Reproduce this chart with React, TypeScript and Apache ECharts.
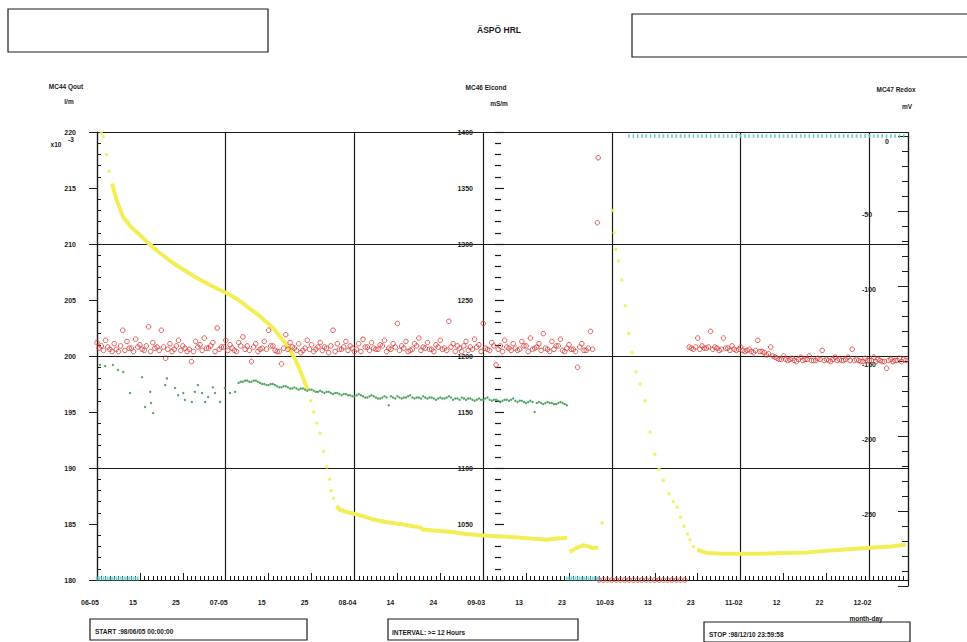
import React, { useEffect, useRef } from "react";
import * as echarts from "echarts";

// Time axis: days since 98/06/05 00:00 (the run stops at 98/12/10 23:59:58)
const TOTAL_DAYS = 189;
const xTickLabels = [
  "06-05", "15", "25", "07-05", "15", "25", "08-04", "14", "24", "09-03",
  "13", "23", "10-03", "13", "23", "11-02", "12", "22", "12-02",
];

// MC44 Qout (l/m x10^-3) — dense stretches drawn as a trace, [day, value]
const qoutFall: [number, number][] = [
  [3.5, 215.4], [4.5, 214], [6.1, 212.4], [8, 211.5], [10, 210.8], [11.9, 210.1],
  [14, 209.4], [17.7, 208.3], [21, 207.5], [24, 206.8], [27, 206.2], [30.3, 205.6],
  [33, 205], [35, 204.4], [37.5, 203.7], [39.6, 203], [41.3, 202.4], [42.7, 201.7],
  [44, 201.1], [45, 200.5], [46.2, 199.7], [47.3, 198.75], [48.2, 197.9], [49, 197],
];
const qoutLowA: [number, number][] = [
  [55.8, 186.6], [56.7, 186.25], [59, 186], [62, 185.7], [64.4, 185.4], [67, 185.2],
  [70.6, 185], [73, 184.85], [75.3, 184.7], [75.9, 184.5], [79, 184.4], [82.3, 184.3],
  [86, 184.1], [89.3, 184], [93, 183.9], [96.3, 183.85], [101, 183.7], [104.9, 183.6],
  [107, 183.7], [109.6, 183.75],
];
const qoutLowB: [number, number][] = [
  [110.2, 182.5], [111, 182.7], [112, 182.9], [113.3, 183.1], [114.5, 183], [115.5, 182.85],
  [116.8, 182.9],
];
const qoutLowC: [number, number][] = [
  [139.9, 182.7], [142.2, 182.4], [146, 182.35], [150, 182.35], [155, 182.35], [160, 182.4],
  [165.5, 182.45], [170, 182.6], [175, 182.75], [181, 182.9], [185, 183], [188.5, 183.15],
];
// MC44 Qout — fast changes, where the 12 h samples stand apart
const qoutSparse: [number, number][] = [
  [1.0, 219.9], [1.5, 219.6], [2.2, 218.0], [2.8, 216.5],
  [49.8, 196], [50.5, 195], [51.2, 194], [52, 193.1], [52.8, 191.5], [53.6, 190.1],
  [54.2, 189], [54.6, 188], [55.1, 187.3],
  [117.7, 185.1], [120.2, 213], [120.5, 211], [120.9, 209.5], [121.5, 208.5], [122.3, 206.8],
  [123.1, 204.5], [123.9, 202], [124.7, 200.3], [125.6, 198.6], [126.6, 197.5], [127.7, 196],
  [128.9, 193.2], [130, 191.2], [131, 189.9], [132, 188.9], [133.3, 187.7], [134.3, 187],
  [135.2, 186.5], [136, 185.6], [136.8, 184.8], [137.6, 184.1], [138.2, 183.6], [139, 183],
];

// MC46 Elcond (mS/m) — midnight and noon readings
const elcondStartA = 0;
const elcondA = [
  1212, 1209, 1214, 1206, 1211, 1204, 1223, 1213, 1207, 1215,
  1210, 1205, 1226, 1212, 1208, 1223, 1198, 1211, 1206, 1214,
  1209, 1204, 1195, 1213, 1210, 1216, 1207, 1212, 1225, 1208,
  1214, 1210, 1205, 1212, 1217, 1209, 1195, 1211, 1206, 1213,
  1223, 1209, 1204, 1193, 1219, 1212, 1207, 1211, 1205, 1214,
  1210, 1206, 1212, 1208, 1203, 1223, 1211, 1206, 1213, 1209,
  1204, 1211, 1215, 1208, 1212, 1206, 1210, 1214, 1207, 1211,
  1229, 1209, 1213, 1205, 1211, 1216, 1208, 1212, 1206, 1210,
  1214, 1207, 1231, 1211, 1209, 1204, 1213, 1208, 1215, 1210,
  1229, 1206, 1212, 1192, 1209, 1214, 1207, 1211, 1205, 1213,
  1209, 1216, 1207, 1211, 1220, 1206, 1213, 1209, 1215, 1204,
  1210, 1206, 1190, 1211, 1205, 1222,
];
const elcondStartANoon = 0.5;
const elcondANoon = [
  1207, 1205, 1208, 1204, 1206, 1209, 1205, 1207, 1204, 1208,
  1206, 1209, 1204, 1207, 1205, 1208, 1206, 1204, 1209, 1205,
  1207, 1206, 1204, 1208, 1205, 1207, 1209, 1204, 1206, 1208,
  1205, 1207, 1204, 1209, 1206, 1205, 1208, 1204, 1207, 1206,
  1209, 1205, 1204, 1207, 1206, 1208, 1205, 1203, 1207, 1206,
  1204, 1208, 1205, 1207, 1209, 1204, 1206, 1208, 1205, 1207,
  1206, 1204, 1208, 1205, 1207, 1206, 1209, 1204, 1206, 1208,
  1205, 1207, 1204, 1206, 1209, 1205, 1207, 1206, 1204, 1208,
  1206, 1205, 1208, 1204, 1207, 1209, 1205, 1206, 1208, 1204,
  1207, 1205, 1209, 1206, 1204, 1208, 1205, 1207, 1206, 1209,
  1204, 1206, 1208, 1205, 1207, 1204, 1206, 1209, 1205, 1207,
  1206, 1204, 1208, 1205, 1207, 1206,
];
const elcondSpikes: [number, number][] = [[116.6, 1319], [116.8, 1377]];
const elcondStartFloor = 117;
const elcondFloor = [
  1000, 1000, 1000, 1000, 1000, 1000, 1000, 1000, 1000, 1000, 1000,
  1000, 1000, 1000, 1000, 1000, 1000, 1000, 1000, 1000, 1000,
];
const elcondStartB = 138;
const elcondB = [
  1208, 1206, 1216, 1209, 1207, 1222, 1208, 1205, 1216, 1207,
  1209, 1205, 1208, 1204, 1206, 1203, 1214, 1204, 1201, 1208,
  1199, 1197, 1200, 1196, 1198, 1195, 1199, 1197, 1200, 1196,
  1198, 1205, 1197, 1195, 1199, 1197, 1196, 1199, 1206, 1197,
  1195, 1198, 1196, 1199, 1197, 1195, 1189, 1197, 1196, 1198,
  1197,
];
const elcondStartBNoon = 138.5;
const elcondBNoon = [
  1207, 1208, 1206, 1207, 1208, 1206, 1207, 1206, 1207, 1205,
  1206, 1206, 1205, 1205, 1204, 1205, 1204, 1203, 1202, 1200,
  1198, 1197, 1197, 1197, 1196, 1197, 1196, 1197, 1196, 1196,
  1197, 1196, 1196, 1197, 1196, 1196, 1197, 1196, 1196, 1196,
  1195, 1196, 1196, 1195, 1196, 1195, 1196, 1195, 1196, 1195,
  1196,
];

// Second conductivity trace (mS/m): scattered start, then midnight / noon readings
const condScatter: [number, number][] = [
  [0.7, 1192], [1.9, 1191], [3.7, 1192], [4.9, 1187.5], [6.1, 1185.7], [7.7, 1167],
  [10.5, 1181], [11.2, 1154.5], [12.4, 1168], [12.6, 1158], [13.1, 1149], [15.9, 1174],
  [16.3, 1180], [18.2, 1171.4], [18.9, 1165], [20.1, 1167], [20.5, 1160.7], [22.1, 1159],
  [22.8, 1168], [23.5, 1174], [24.5, 1167], [25.2, 1159], [25.9, 1163.4], [27, 1172],
  [27.5, 1167], [28.7, 1159], [29.8, 1171.4], [31, 1167], [32.2, 1168],
];
const condStart = 33;
const condDaily = [
  1176, 1177, 1178, 1177, 1178, 1176, 1175, 1174, 1175, 1173,
  1172, 1173, 1171, 1172, 1170, 1171, 1169, 1170, 1168, 1169,
  1167, 1168, 1166, 1167, 1165, 1166, 1165, 1164, 1166, 1164,
  1163, 1165, 1163, 1162, 1164, 1156, 1163, 1164, 1162, 1163,
  1165, 1162, 1163, 1164, 1162, 1163, 1161, 1163, 1162, 1164,
  1161, 1162, 1163, 1161, 1162, 1160, 1162, 1161, 1163, 1160,
  1161, 1159, 1161, 1160, 1162, 1159, 1160, 1158, 1160, 1150,
  1159, 1157, 1159, 1158, 1157, 1159, 1157,
];
const condStartNoon = 33.5;
const condNoon = [
  1177, 1178, 1177, 1178, 1177, 1175, 1174, 1175, 1174, 1172,
  1173, 1172, 1171, 1171, 1171, 1170, 1170, 1169, 1168, 1168,
  1168, 1167, 1167, 1166, 1166, 1165, 1164, 1165, 1165, 1163,
  1164, 1164, 1162, 1163, 1163, 1164, 1162, 1163, 1163, 1164,
  1163, 1163, 1162, 1163, 1163, 1162, 1162, 1162, 1163, 1163,
  1162, 1161, 1162, 1162, 1161, 1161, 1161, 1162, 1161, 1161,
  1160, 1160, 1161, 1161, 1160, 1160, 1159, 1159, 1159, 1158,
  1158, 1158, 1158, 1157, 1158, 1158, 1156,
];

// MC47 Redox (mV), 12 h samples pinned at the ends of the range
const redoxStartA = 0;
const redoxA = [
  -295, -295, -295, -295, -295, -295, -295, -295, -295, -295,
  -295, -295, -295, -295, -295, -295, -295, -295, -295, -295,
];
const redoxStartB = 109.5;
const redoxB = [
  -295, -295, -295, -295, -295, -295, -295, -295,
  -295, -295, -295, -295, -295, -295, -295, -295,
];
const redoxStartC = 124;
const redoxC = [
  0, 0, 0, 0, 0, 0, 0, 0, 0, 0, 0, 0, 0, 0, 0, 0, 0, 0, 0, 0, 0, 0,
  0, 0, 0, 0, 0, 0, 0, 0, 0, 0, 0, 0, 0, 0, 0, 0, 0, 0, 0, 0, 0, 0,
  0, 0, 0, 0, 0, 0, 0, 0, 0, 0, 0, 0, 0, 0, 0, 0, 0, 0, 0, 0, 0,
];

const INK = "#1b1b1b";
const FONT = '"Liberation Sans", Arial, sans-serif';
const YELLOW = "#f3ee55";
const RED = "#dd3f3a";
const GREEN = "#3f9d55";
const CYAN = "#58c4c0";

const seq = (start: number, vals: number[], step = 1) =>
  vals.map((v, i) => [start + i * step, v]);

const tickLabel = {
  fontFamily: FONT,
  fontSize: 7,
  fontWeight: "bold" as const,
  color: INK,
};

const txt = (
  text: string,
  x: number,
  y: number,
  size = 6.5,
  align: "left" | "center" | "right" = "center"
) => ({
  type: "text",
  x,
  y,
  silent: true,
  style: {
    text,
    fill: INK,
    fontFamily: FONT,
    fontSize: size,
    fontWeight: "bold",
    align,
    verticalAlign: "middle",
  },
});

const box = (x: number, y: number, w: number, h: number) => ({
  type: "rect",
  silent: true,
  shape: { x, y, width: w, height: h },
  style: { fill: "none", stroke: INK, lineWidth: 1.2 },
});

function buildOption() {
  const yellowLine = (data: [number, number][]) => ({
    type: "line",
    xAxisIndex: 0,
    yAxisIndex: 0,
    data,
    symbol: "none",
    lineStyle: { color: YELLOW, width: 4 },
    z: 2,
  });

  return {
    animation: false,
    backgroundColor: "#ffffff",
    grid: [
      { left: 97, top: 132, width: 811, height: 448, containLabel: false },
      { left: 97, top: 136, width: 811, height: 450, containLabel: false },
    ],
    xAxis: [
      {
        gridIndex: 0,
        type: "value",
        min: 0,
        max: TOTAL_DAYS,
        interval: 10,
        axisLine: { show: true, onZero: false, lineStyle: { color: INK, width: 1.2 } },
        axisTick: { show: true, inside: true, length: 7, lineStyle: { color: INK } },
        minorTick: { show: true, splitNumber: 10, length: 4, lineStyle: { color: INK } },
        splitLine: { show: false },
        axisLabel: {
          ...tickLabel,
          margin: 19,
          padding: [0, 14, 0, 0],
          showMaxLabel: false,
          formatter: (v: number) => {
            const i = Math.round(v / 10);
            if (Math.abs(v - i * 10) > 1e-6) return "";
            return xTickLabels[i] ?? "";
          },
        },
      },
      {
        gridIndex: 0,
        type: "value",
        min: 0,
        max: TOTAL_DAYS,
        interval: 30,
        axisLine: { show: false, onZero: false },
        axisTick: { show: false },
        axisLabel: { show: false },
        splitLine: { show: true, lineStyle: { color: INK, width: 1.2 } },
      },
      { gridIndex: 1, type: "value", min: 0, max: TOTAL_DAYS, show: false },
    ],
    yAxis: [
      // MC44 Qout
      {
        gridIndex: 0,
        type: "value",
        position: "left",
        min: 180,
        max: 220,
        interval: 5,
        axisLine: { show: true, onZero: false, lineStyle: { color: INK, width: 1.2 } },
        axisTick: { show: true, inside: false, length: 8, lineStyle: { color: INK } },
        splitLine: { show: false },
        axisLabel: { ...tickLabel, margin: 21 },
      },
      // Qout unit ticks, pointing into the plot
      {
        gridIndex: 0,
        type: "value",
        position: "left",
        min: 180,
        max: 220,
        interval: 5,
        axisLine: { show: false, onZero: false },
        axisTick: { show: false, inside: true },
        minorTick: { show: true, splitNumber: 5, length: 4, lineStyle: { color: INK } },
        axisLabel: { show: false },
        splitLine: { show: false },
      },
      // horizontal grid
      {
        gridIndex: 0,
        type: "value",
        position: "left",
        min: 180,
        max: 220,
        interval: 10,
        axisLine: { show: false, onZero: false },
        axisTick: { show: false },
        axisLabel: { show: false },
        splitLine: { show: true, lineStyle: { color: INK, width: 1.2 } },
      },
      // MC46 Elcond, in the middle of the plot
      {
        gridIndex: 0,
        type: "value",
        position: "left",
        offset: -398,
        min: 1000,
        max: 1400,
        interval: 50,
        axisLine: { show: false, onZero: false },
        axisTick: { show: true, inside: true, length: 9, lineStyle: { color: INK, width: 1.2 } },
        minorTick: { show: true, splitNumber: 5, length: 6, lineStyle: { color: INK, width: 1.2 } },
        splitLine: { show: false },
        axisLabel: {
          ...tickLabel,
          margin: 22,
          showMinLabel: false,
          formatter: (v: number) => String(v),
        },
      },
      // MC47 Redox
      {
        gridIndex: 1,
        type: "value",
        position: "right",
        min: -300,
        max: 0,
        interval: 50,
        axisLine: { show: true, onZero: false, lineStyle: { color: INK, width: 1.2 } },
        axisTick: { show: true, inside: true, length: 10, lineStyle: { color: INK } },
        minorTick: { show: true, splitNumber: 5, length: 6, lineStyle: { color: INK } },
        splitLine: { show: false },
        axisLabel: {
          ...tickLabel,
          inside: true,
          margin: 46,
          align: "left",
          verticalAlign: "top",
          showMinLabel: false,
          formatter: (v: number) => (v === 0 ? "{z|0}" : String(v)),
          rich: {
            z: { ...tickLabel, padding: [2, 0, 0, 23] },
          },
        },
      },
    ],
    series: [
      yellowLine(qoutFall),
      yellowLine(qoutLowA),
      yellowLine(qoutLowB),
      yellowLine(qoutLowC),
      {
        type: "scatter",
        xAxisIndex: 0,
        yAxisIndex: 0,
        data: qoutSparse,
        symbol: "circle",
        symbolSize: 3.5,
        itemStyle: { color: YELLOW, opacity: 0.85 },
        z: 2,
      },
      {
        type: "scatter",
        xAxisIndex: 0,
        yAxisIndex: 3,
        data: [
          ...condScatter,
          ...seq(condStart, condDaily),
          ...seq(condStartNoon, condNoon),
        ],
        symbol: "circle",
        symbolSize: 2.4,
        itemStyle: { color: GREEN, opacity: 0.9 },
        z: 3,
      },
      {
        type: "scatter",
        xAxisIndex: 0,
        yAxisIndex: 3,
        data: [
          ...seq(elcondStartA, elcondA),
          ...seq(elcondStartANoon, elcondANoon),
          ...elcondSpikes,
          ...seq(elcondStartFloor, elcondFloor),
          ...seq(elcondStartB, elcondB),
          ...seq(elcondStartBNoon, elcondBNoon),
        ],
        symbol: "circle",
        symbolSize: 4.6,
        itemStyle: { color: "rgba(0,0,0,0)", borderColor: RED, borderWidth: 1, opacity: 0.85 },
        z: 4,
      },
      {
        type: "scatter",
        xAxisIndex: 2,
        yAxisIndex: 4,
        data: [
          ...seq(redoxStartA, redoxA, 0.5),
          ...seq(redoxStartB, redoxB, 0.5),
          ...seq(redoxStartC, redoxC),
        ],
        symbol: "rect",
        symbolSize: [1.6, 4],
        itemStyle: { color: CYAN },
        z: 4,
      },
    ],
    graphic: [
      box(8, 9, 260, 43),
      box(632, 14, 345, 43),
      txt("ÄSPÖ HRL", 499, 30, 8.5),
      txt("MC44 Qout", 66, 86),
      txt("l/m", 69, 101),
      txt("MC46 Elcond", 486, 87),
      txt("mS/m", 499, 103),
      txt("MC47 Redox", 896, 89),
      txt("mV", 907, 106),
      txt("x10", 56, 144, 6.5),
      txt("-3", 71, 139, 6.5),
      txt("month-day", 866, 618, 6.5),
      box(90, 619, 217, 21),
      txt("START :98/06/05 00:00:00", 95, 631, 6.5, "left"),
      box(388, 619, 190, 21),
      txt("INTERVAL: >= 12 Hours", 392, 632, 6.5, "left"),
      box(704, 622, 206, 20),
      txt("STOP :98/12/10 23:59:58", 709, 634, 6.5, "left"),
    ],
  };
}

export default function App() {
  const ref = useRef<HTMLDivElement>(null);
  useEffect(() => {
    document.body.style.margin = "0";
    const el = ref.current;
    if (!el) return;
    const chart = echarts.init(el, undefined, { renderer: "svg" });
    chart.setOption(buildOption() as any);
    return () => chart.dispose();
  }, []);
  return <div ref={ref} style={{ width: 967, height: 642, background: "#fff" }} />;
}
